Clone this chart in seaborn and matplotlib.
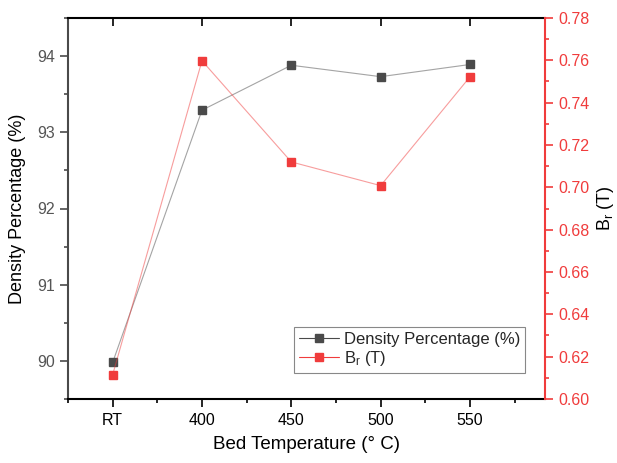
import matplotlib
matplotlib.use("Agg")
import matplotlib.pyplot as plt
from matplotlib.ticker import MultipleLocator
from matplotlib.lines import Line2D
import seaborn as sns
import pandas as pd
import numpy as np

categories = ["RT", "400", "450", "500", "550"]
density = [89.98, 93.29, 93.88, 93.73, 93.89]
br = [0.6115, 0.7598, 0.712, 0.7008, 0.7522]

sns.set_theme(style="white")
plt.rcParams['font.family'] = ['Liberation Sans', 'DejaVu Sans']
plt.rcParams['mathtext.fontset'] = 'custom'
plt.rcParams['mathtext.rm'] = 'Liberation Sans'
plt.rcParams['mathtext.it'] = 'Liberation Sans'

GREY = "#4a4a4a"
RED = "#f03c3c"

df = pd.DataFrame({"pos": np.arange(len(categories)), "cat": categories,
                   "density": density, "br": br})

fig = plt.figure(figsize=(6.17, 4.63), dpi=100)
ax = fig.add_axes([68/617, 1-399/463, (545-68)/617, (399-18)/463])
ax2 = ax.twinx()

sns.lineplot(data=df, x="pos", y="density", ax=ax, color=GREY, lw=0.8, alpha=0.5,
             marker=None, legend=False)
ax.plot(df["pos"], df["density"], ls="none", marker="s", ms=6, color=GREY, mec=GREY)
sns.lineplot(data=df, x="pos", y="br", ax=ax2, color=RED, lw=0.8, alpha=0.5,
             marker=None, legend=False)
ax2.plot(df["pos"], df["br"], ls="none", marker="s", ms=6, color=RED, mec=RED)

ax.set_xlim(-0.5, 4.84)
ax.set_ylim(89.5, 94.5)
ax2.set_ylim(0.60, 0.78)

ax.set_xticks(df["pos"])
ax.set_xticklabels(categories)
ax.xaxis.set_minor_locator(MultipleLocator(0.5))
ax.yaxis.set_major_locator(MultipleLocator(1))
ax.yaxis.set_minor_locator(MultipleLocator(0.5))
ax2.yaxis.set_major_locator(MultipleLocator(0.02))
ax2.yaxis.set_minor_locator(MultipleLocator(0.01))
ax2.set_yticklabels([f"{v:.2f}" for v in ax2.get_yticks()])

for s in ["top", "bottom"]:
    ax.spines[s].set_color("black")
    ax.spines[s].set_linewidth(1.5)
ax.spines["left"].set_color(GREY)
ax.spines["left"].set_linewidth(1.5)
ax2.spines["right"].set_color(RED)
ax2.spines["right"].set_linewidth(1.5)
for s in ["top", "bottom", "left"]:
    ax2.spines[s].set_visible(False)
ax.spines["right"].set_visible(False)

ax.tick_params(axis="x", which="major", direction="out", length=6, width=1.2,
               color="black", labelsize=11.5, labelcolor="black", bottom=True, top=False, pad=4)
ax.tick_params(axis="x", which="minor", direction="out", length=3, width=1.2,
               color="black", bottom=True, top=False)
ax.tick_params(axis="y", which="major", direction="out", length=6, width=1.2,
               color=GREY, labelsize=11.5, labelcolor="#555555", left=True)
ax.tick_params(axis="y", which="minor", direction="out", length=3, width=1.2,
               color=GREY, left=True)
ax2.tick_params(axis="y", which="major", direction="out", length=6, width=1.2,
                color=RED, labelsize=11.5, labelcolor=RED, right=True)
ax2.tick_params(axis="y", which="minor", direction="out", length=3, width=1.2,
                color=RED, right=True)

# top inward ticks at major x positions
secx = ax.secondary_xaxis("top")
secx.set_xticks(df["pos"])
secx.set_xticklabels([])
secx.tick_params(direction="in", length=6, width=1.2, color="black")
secx.spines["top"].set_visible(False)

ax.set_xlabel("Bed Temperature (° C)", fontsize=13.5, color="black", labelpad=6)
ax.set_ylabel("Density Percentage (%)", fontsize=13, color="black", labelpad=8)
ax2.set_ylabel("B$_\\mathrm{r}$ (T)", fontsize=13, color="black", labelpad=4)

handles = [
    Line2D([0], [0], color=GREY, lw=0.8, marker="s", ms=6, mec=GREY),
    Line2D([0], [0], color=RED, lw=0.8, marker="s", ms=6, mec=RED),
]
leg = ax2.legend(handles, ["Density Percentage (%)", "B$_\\mathrm{r}$ (T)"],
                 loc="lower right", bbox_to_anchor=(0.959, 0.068), fontsize=12,
                 frameon=True, fancybox=False, framealpha=1, edgecolor="#888888",
                 handlelength=2.4, handletextpad=0.3, borderpad=0.3, labelspacing=0.15,
                 borderaxespad=0)
leg.get_frame().set_linewidth(0.8)

fig.savefig("out.png", dpi=100)
